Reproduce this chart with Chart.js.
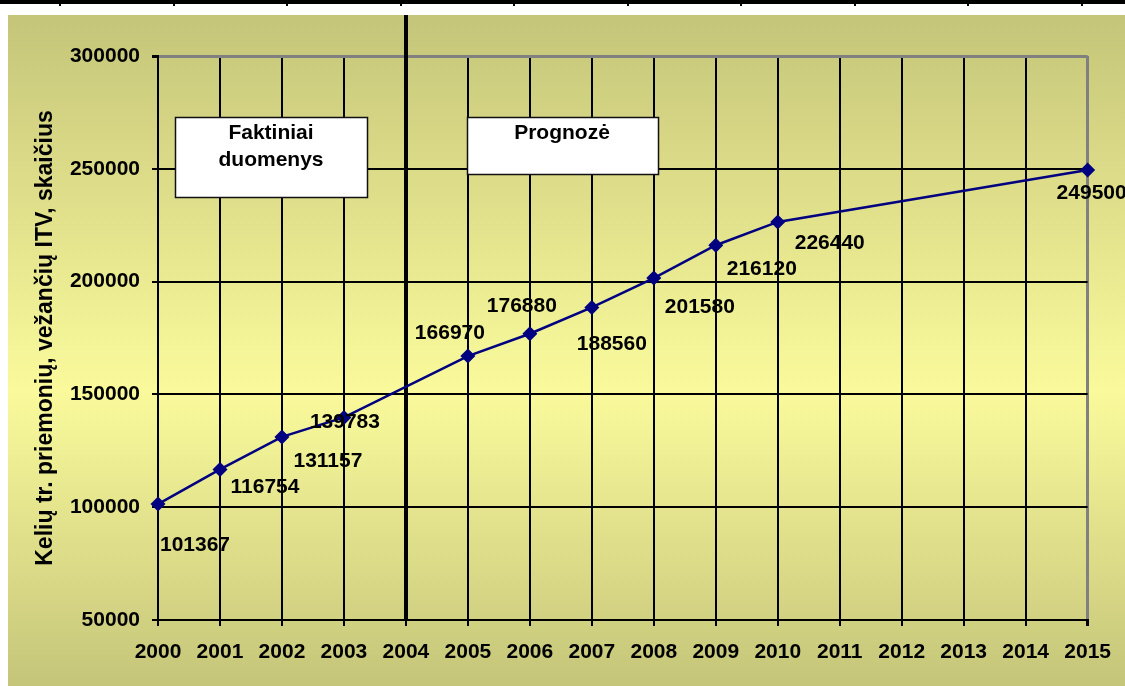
<!DOCTYPE html>
<html>
<head>
<meta charset="utf-8">
<script src="https://cdn.jsdelivr.net/npm/chart.js@4/dist/chart.umd.min.js"></script>
<style>
  html, body { margin: 0; padding: 0; background: #fff; }
  canvas { display: block; }
</style>
</head>
<body>
<canvas id="itv" width="1125" height="686"></canvas>
<script>
const years = ["2000", "2001", "2002", "2003", "2004", "2005", "2006", "2007",
  "2008", "2009", "2010", "2011", "2012", "2013", "2014", "2015"];
// 2004 and 2011-2014 have no value, the line just runs through them
const vehicles = [101367, 116754, 131157, 139783, null, 166970, 176880, 188560,
  201580, 216120, 226440, null, null, null, null, 249500];
const yTicks = [50000, 100000, 150000, 200000, 250000, 300000];
const yTitle = "Kelių tr. priemonių, vežančių ITV, skaičius";

// where each value label sits relative to its point (label centre, px)
const labelShift = [[37, 41], [45, 18], [46, 24], [1, 5], null, [-18, -23], [-8, -28],
  [20, 37], [46, 29], [46, 24], [52, 21], null, null, null, null, [4, 23]];

const FONT = "'Liberation Sans', Arial, sans-serif";
const GRAY = "#808080";

const decor = {
  id: "decor",
  beforeDraw(chart) {
    const c = chart.ctx;
    c.save();
    c.fillStyle = "#fff";
    c.fillRect(0, 0, chart.width, chart.height);
    // table border strip on top
    c.fillStyle = "#000";
    c.fillRect(0, 0, chart.width, 4);
    for (let x = 60; x < chart.width; x += 113.5) {
      c.fillRect(Math.round(x) - 1, 4, 2, 2);
    }
    const g = c.createLinearGradient(0, 15, 0, chart.height);
    g.addColorStop(0, "#c5c57a");
    g.addColorStop(0.56, "#fafa9c");
    g.addColorStop(1, "#c5c57a");
    c.fillStyle = g;
    c.fillRect(8, 15, chart.width - 8, chart.height - 15);
    c.restore();
  },
  beforeDatasetsDraw(chart) {
    const c = chart.ctx;
    const xs = chart.scales.x;
    const area = chart.chartArea;
    c.save();
    // split between actual data and forecast
    const x04 = xs.getPixelForValue(years.indexOf("2004"));
    c.fillStyle = "#000";
    c.fillRect(Math.round(x04) - 2, 15, 4, area.bottom - 15);

    c.strokeStyle = "#111";
    c.lineWidth = 1.5;
    c.fillStyle = "#fff";
    c.fillRect(175, 117, 192, 80);
    c.strokeRect(175.5, 117.5, 192, 80);
    c.fillRect(467, 117, 191, 57);
    c.strokeRect(467.5, 117.5, 191, 57);

    c.fillStyle = "#000";
    c.font = "bold 21px " + FONT;
    c.textAlign = "center";
    c.textBaseline = "alphabetic";
    c.fillText("Faktiniai", 271, 139);
    c.fillText("duomenys", 271, 166);
    c.fillText("Prognozė", 562, 139);
    c.restore();
  },
  afterDatasetsDraw(chart) {
    const c = chart.ctx;
    const pts = chart.getDatasetMeta(0).data;
    c.save();
    c.fillStyle = "#000";
    c.font = "bold 21px " + FONT;
    c.textAlign = "center";
    c.textBaseline = "middle";
    vehicles.forEach((v, i) => {
      if (v === null) return;
      const p = pts[i];
      const s = labelShift[i] || [0, 20];
      c.fillText(String(v), p.x + s[0], p.y + s[1]);
    });
    c.restore();
  }
};

const tickFont = { family: FONT, size: 21, weight: "bold" };

new Chart(document.getElementById("itv"), {
  type: "line",
  data: {
    labels: years,
    datasets: [{
      data: vehicles,
      spanGaps: true,
      borderColor: "#000080",
      borderWidth: 2.5,
      backgroundColor: "#000080",
      pointStyle: "rectRot",
      pointRadius: 7.5,
      pointBorderWidth: 0,
      pointBackgroundColor: "#000080",
      tension: 0,
      clip: false
    }]
  },
  options: {
    responsive: false,
    animation: false,
    devicePixelRatio: 1,
    layout: { padding: { left: 8, top: 56, right: 36, bottom: 0 } },
    plugins: {
      legend: { display: false },
      tooltip: { enabled: false }
    },
    scales: {
      x: {
        type: "category",
        offset: false,
        grid: {
          color: ctx => (ctx.index === years.length - 1 ? GRAY : "#000"),
          lineWidth: ctx => (ctx.index === years.length - 1 ? 3 : 2),
          tickColor: "#000",
          tickLength: 6
        },
        border: { color: "#000", width: 2 },
        ticks: { color: "#000", font: tickFont, padding: 14, maxRotation: 0, autoSkip: false },
        afterFit: s => { s.height = 66; }
      },
      y: {
        min: yTicks[0],
        max: yTicks[yTicks.length - 1],
        afterBuildTicks: s => { s.ticks = yTicks.map(v => ({ value: v })); },
        grid: {
          color: ctx => (ctx.tick && ctx.tick.value === 300000 ? GRAY : "#000"),
          lineWidth: ctx => (ctx.tick && ctx.tick.value === 300000 ? 3 : 2),
          tickColor: "#000",
          tickLength: 6
        },
        border: { color: "#000", width: 2 },
        ticks: { color: "#000", font: tickFont, padding: 12, callback: v => String(v) },
        title: {
          display: true,
          text: yTitle,
          color: "#000",
          font: { family: FONT, size: 23, weight: "bold" },
          padding: { top: 24, bottom: 0 }
        },
        afterFit: s => { s.width = 150; }
      }
    }
  },
  plugins: [decor]
});
</script>
</body>
</html>
